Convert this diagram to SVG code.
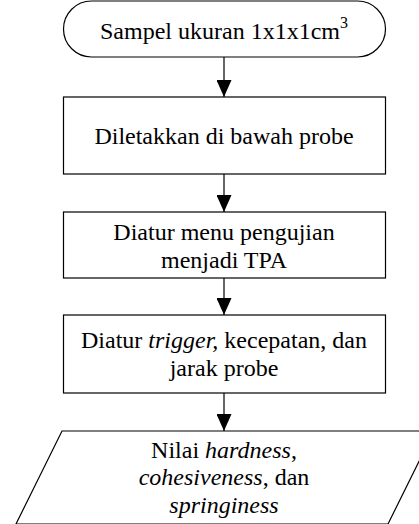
<svg xmlns="http://www.w3.org/2000/svg" width="419" height="524" viewBox="0 0 419 524">
  <style>
    .box { fill: #fff; stroke: #000; stroke-width: 1.2; }
    .lbl { font-family: "Liberation Serif", "Times New Roman", serif; font-size: 24px; fill: #000; text-anchor: middle; }
    .it { font-style: italic; }
    .sup { font-size: 16px; }
    .conn { stroke: #000; stroke-width: 1.2; fill: none; marker-end: url(#head); }
  </style>
  <defs>
    <marker id="head" viewBox="0 0 17 15" refX="17" refY="7.5" markerWidth="17" markerHeight="15" markerUnits="userSpaceOnUse" orient="auto">
      <path d="M0,0 L17,7.5 L0,15 z" fill="#000"/>
    </marker>
  </defs>

  <g id="connectors">
    <line class="conn" x1="224" y1="57" x2="224" y2="97"/>
    <line class="conn" x1="224" y1="174" x2="224" y2="212"/>
    <line class="conn" x1="224" y1="278" x2="224" y2="315"/>
    <line class="conn" x1="224" y1="393" x2="224" y2="431"/>
  </g>

  <g id="start">
    <rect class="box" x="63.5" y="1" width="322" height="56" rx="28" ry="28"/>
    <text class="lbl" x="224" y="39">Sampel ukuran 1x1x1cm<tspan class="sup" dy="-11">3</tspan></text>
  </g>

  <g id="step1">
    <rect class="box" x="63.5" y="97" width="322" height="77"/>
    <text class="lbl" x="224" y="144">Diletakkan di bawah probe</text>
  </g>

  <g id="step2">
    <rect class="box" x="63.5" y="212" width="322" height="66"/>
    <text class="lbl" x="224" y="240">Diatur menu pengujian</text>
    <text class="lbl" x="224" y="268">menjadi TPA</text>
  </g>

  <g id="step3">
    <rect class="box" x="63.5" y="315" width="322" height="78"/>
    <text class="lbl" x="224" y="348">Diatur <tspan class="it">trigger,</tspan> kecepatan, dan</text>
    <text class="lbl" x="224" y="376">jarak probe</text>
  </g>

  <g id="output">
    <polygon class="box" points="62,431 434,431 388,524 16,524"/>
    <text class="lbl" x="224" y="458">Nilai <tspan class="it">hardness</tspan>,</text>
    <text class="lbl" x="224" y="485"><tspan class="it">cohesiveness</tspan>, dan</text>
    <text class="lbl" x="224" y="513"><tspan class="it">springiness</tspan></text>
  </g>
</svg>
